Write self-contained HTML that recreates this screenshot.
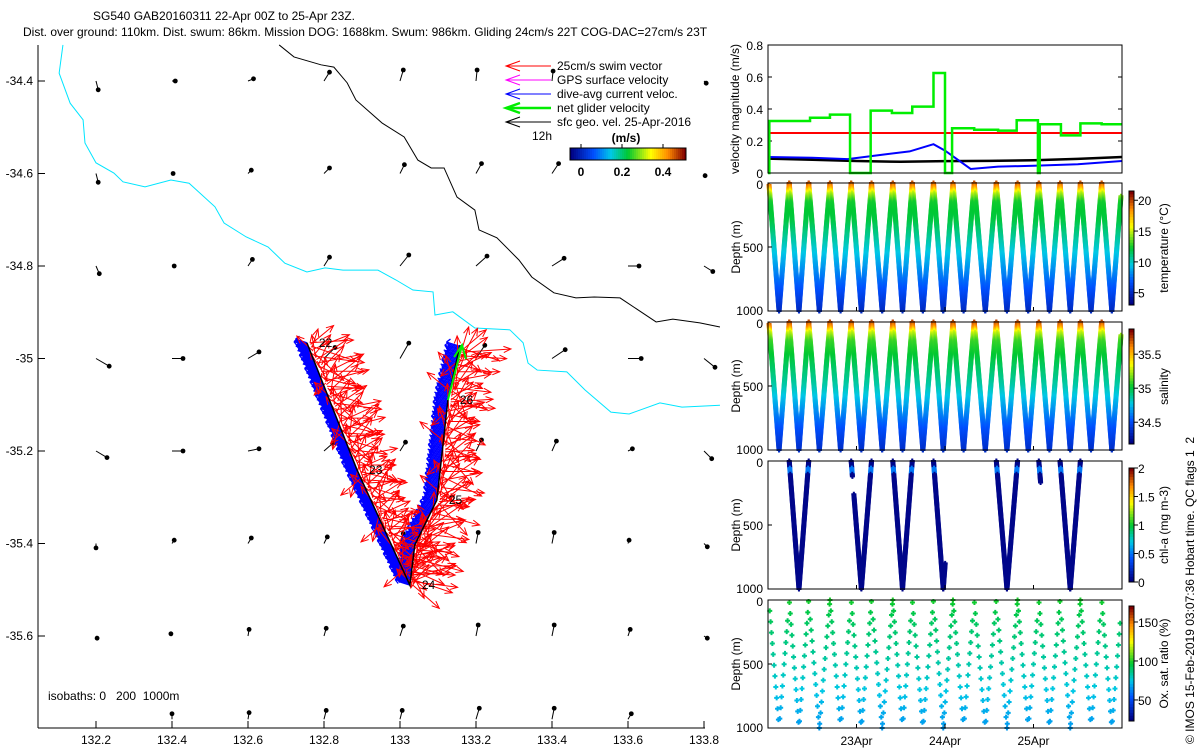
<!DOCTYPE html>
<html><head><meta charset="utf-8">
<style>
html,body{margin:0;padding:0;background:#fff;}
svg{display:block;font-family:"Liberation Sans",sans-serif;}
text{font-size:12px;fill:#000;white-space:pre;}
</style></head>
<body>
<svg id="fig" width="1200" height="750" viewBox="0 0 1200 750" xmlns="http://www.w3.org/2000/svg">
<text x="93" y="20">SG540 GAB20160311 22-Apr 00Z to 25-Apr 23Z.</text>
<text x="23" y="36">Dist. over ground: 110km. Dist. swum: 86km. Mission DOG: 1688km. Swum: 986km. Gliding 24cm/s 22T COG-DAC=27cm/s 23T</text>
<g id="map"></g>
<g id="vel"></g>
<g id="temp"></g>
<g id="sal"></g>
<g id="chl"></g>
<g id="ox"></g>
<text transform="translate(1194,744) rotate(-90)">© IMOS 15-Feb-2019 03:07:36 Hobart time. QC flags 1  2</text>
</svg>
<script>
// ---------- data ----------
const lonTicks=[132.2,132.4,132.6,132.8,133,133.2,133.4,133.6,133.8];
const latTicks=[-34.4,-34.6,-34.8,-35,-35.2,-35.4,-35.6];
const gridLat=[-34.4,-34.6,-34.8,-35,-35.2,-35.4,-35.6,-35.78];
const geoU=[[.02,.03,.05,.05,.03,.01,.01,0,.02],[.02,.01,.03,.05,.04,.05,.06,0,.01],[.03,.02,.04,.05,.08,.10,.11,.10,.08],[.12,.10,.10,.10,.08,.08,.12,.12,.10],[.10,.10,.10,.08,.05,.05,.04,.04,.07],[0,.02,.03,.03,.03,.02,.02,.01,.03],[.01,-.01,.01,.02,.03,.02,.02,.02,.03],[0,0,.01,.02,.02,.03,.02,.03,0]];
const geoV=[[-.08,0,.02,.08,.10,.10,.09,0,-.02],[-.08,0,.03,.05,.08,.09,.09,0,-.02],[-.07,0,.06,.08,.10,.09,.07,0,-.05],[-.07,0,.06,.10,.14,.12,.08,0,-.08],[-.06,0,.02,.07,.08,.10,.09,.02,-.07],[-.04,.03,.05,.06,.09,.10,.10,.03,-.03],[-.02,.02,.06,.07,.09,.10,.10,.06,-.02],[0,.05,.06,.08,.08,.10,.10,.05,0]];
const isoCyanLon=[132.113,132.103,132.132,132.166,132.171,132.2,132.247,132.271,132.329,132.397,132.445,132.513,132.537,132.595,132.653,132.697,132.755,132.803,132.85,132.942,132.989,133.034,133.087,133.092,133.139,133.197,133.289,133.324,133.337,133.361,133.439,133.487,133.555,133.603,133.684,133.742,133.842];
const isoCyanLat=[-34.322,-34.383,-34.448,-34.484,-34.534,-34.577,-34.599,-34.618,-34.629,-34.614,-34.621,-34.672,-34.707,-34.737,-34.759,-34.794,-34.813,-34.804,-34.809,-34.809,-34.830,-34.852,-34.856,-34.906,-34.899,-34.934,-34.938,-34.966,-35.010,-35.025,-35.029,-35.068,-35.116,-35.120,-35.096,-35.105,-35.101];
const isoBlackLon=[132.682,132.721,132.792,132.826,132.861,132.884,132.953,133.011,133.047,133.082,133.116,133.150,133.197,133.208,133.255,133.313,133.347,133.405,133.463,133.511,133.579,133.674,133.718,133.789,133.842];
const isoBlackLat=[-34.322,-34.348,-34.365,-34.370,-34.404,-34.441,-34.491,-34.521,-34.571,-34.588,-34.588,-34.651,-34.679,-34.722,-34.739,-34.787,-34.824,-34.858,-34.869,-34.867,-34.869,-34.921,-34.915,-34.923,-34.932];
const trackLon=[132.755,132.887,133.026,133.039,133.097,133.126,133.158];
const trackLat=[-34.966,-35.241,-35.490,-35.403,-35.306,-35.090,-34.971];
const dayLabels=["22","23","24","","25","26",""];
const swimAngles=[20,70,-10,110,45,160,-40,85,5,130,60,-70,30,100,-20,150,75,15,-100,50,120,-5,90,35,-130,65,10,-45];
const swimLens=[.30,.22,.34,.18,.28,.25,.32,.20,.35,.24,.27,.19,.31,.23,.29,.21,.26];
// velocity panel
const greenT=[0,0.015,0.475,0.70,0.927,1.16,1.40,1.63,1.87,2.0,2.08,2.33,2.6,2.81,3.05,3.07,3.31,3.53,3.77,4.0];
const greenV=[0,0.325,0.345,0.365,0,0.39,0.375,0.415,0.625,0,0.28,0.27,0.265,0.33,0,0.305,0.235,0.31,0.305,0.305];
const redT=[0,4];const redV=[0.25,0.25];
const blueT=[0,0.5,0.9,1.3,1.6,1.87,2.0,2.29,2.6,3.0,3.5,4.0];
const blueV=[0.1,0.095,0.087,0.115,0.135,0.18,0.14,0.025,0.04,0.045,0.055,0.075];
const blackT=[0,0.5,1.0,1.5,2.0,2.5,3.0,3.5,4.0];
const blackV=[0.09,0.083,0.075,0.07,0.074,0.076,0.08,0.088,0.1];
// dives (surface times, days since 22 Apr 00Z)
const surfT=[0.01,0.24,0.46,0.70,0.94,1.17,1.41,1.63,1.87,2.09,2.33,2.58,2.82,3.06,3.30,3.53,3.77,4.00];
const profDepth=[0,40,80,150,300,500,700,850,1000];
const tempProf=[20,18,15,12.5,12,10,8,6.5,5];
const salProf=[35.75,35.6,35.3,35.1,35.0,34.86,34.65,34.5,34.38];
const oxProf=[100,97,95,92,88,82,75,70,66];
const chlSeg=[[1,0,0,1000],[1,1,0,1000],[4,0,0,120],[4,0,260,1000],[4,1,0,1000],[6,0,0,1000],[6,1,0,1000],[8,0,0,1000],[8,1,800,1000],[11,0,0,1000],[11,1,0,1000],[13,0,0,170],[14,0,0,1000],[14,1,0,1000]];

// ---------- helpers ----------
const NS="http://www.w3.org/2000/svg";
function mk(parent,tag,attrs){const e=document.createElementNS(NS,tag);for(const k in attrs)e.setAttribute(k,attrs[k]);parent.appendChild(e);return e;}
const cmapStops=[0,0.2,0.35,0.5,0.7,0.85,1];
const cmapCols=[[0,0,128],[0,80,255],[0,200,230],[0,200,50],[255,255,0],[255,140,0],[128,0,0]];
function jet(f){f=Math.max(0,Math.min(1,f));let i=1;while(i<cmapStops.length-1&&f>cmapStops[i])i++;
 const a=cmapStops[i-1],b=cmapStops[i],w=(f-a)/(b-a);const c=cmapCols[i-1].map((v,k)=>Math.round(v+w*(cmapCols[i][k]-v)));return `rgb(${c[0]},${c[1]},${c[2]})`;}
function interp(xs,ys,x){if(x<=xs[0])return ys[0];for(let i=1;i<xs.length;i++){if(x<=xs[i]){const f=(x-xs[i-1])/(xs[i]-xs[i-1]);return ys[i-1]+f*(ys[i]-ys[i-1]);}}return ys[ys.length-1];}

// ---------- map ----------
const map=document.getElementById('map');
const mx=lon=>96+(lon-132.2)*380;
const my=lat=>81-(lat+34.4)*462.5;
let l;
l=mk(map,'line',{x1:38,y1:45,x2:38,y2:728,stroke:'#000'});

l=mk(map,'line',{x1:38,y1:728,x2:705,y2:728,stroke:'#000'});

lonTicks.forEach(v=>{const x=mx(v);mk(map,'line',{x1:x,y1:728,x2:x,y2:721,stroke:'#000'});
 const t=mk(map,'text',{x:x,y:744,'text-anchor':'middle'});t.textContent=String(v);
 });
latTicks.forEach(v=>{const y=my(v);mk(map,'line',{x1:38,y1:y,x2:45,y2:y,stroke:'#000'});
 const t=mk(map,'text',{x:33,y:y+4,'text-anchor':'end'});t.textContent=String(v);
 });
function polyline(g,lons,lats,color,w,name){const p=mk(g,'polyline',{points:lons.map((v,i)=>mx(v)+','+my(lats[i])).join(' '),fill:'none',stroke:color,'stroke-width':w});
 return p;}
polyline(map,isoCyanLon,isoCyanLat,'#00e5ff',1,'isobath-200m');
polyline(map,isoBlackLon,isoBlackLat,'#000',1,'isobath-1000m');
gridLat.forEach((la,r)=>{lonTicks.forEach((lo,c)=>{const u=geoU[r][c],v=geoV[r][c];if(u===0&&v===0)return;
 const x=mx(lo),y=my(la),x2=x+u*110,y2=y-v*110;
 const a=mk(map,'line',{x1:x,y1:y,x2:x2,y2:y2,stroke:'#000','stroke-width':1});
 
 mk(map,'circle',{cx:x2,cy:y2,r:2.4,fill:'#000'});});});
const tp=trackLon.map((v,i)=>[mx(v),my(trackLat[i])]);
function sampleTrack(step){const out=[];for(let i=0;i<tp.length-1;i++){const n=Math.max(3,Math.round(Math.hypot(tp[i+1][0]-tp[i][0],tp[i+1][1]-tp[i][1])/step));
 for(let k=0;k<n;k++){const f=k/n;out.push([tp[i][0]+f*(tp[i+1][0]-tp[i][0]),tp[i][1]+f*(tp[i+1][1]-tp[i][1])]);}}return out;}
const blueG=mk(map,'g',{stroke:'#0000ff','stroke-width':1.3});

sampleTrack(1.2).forEach((s,i)=>{const L=12+(i%4);const x2=s[0]-L*0.95,y2=s[1]-L*0.3;
 mk(blueG,'line',{x1:s[0],y1:s[1],x2:x2,y2:y2});if(i%3===0){mk(blueG,'line',{x1:x2,y1:y2,x2:x2+4,y2:y2-3});mk(blueG,'line',{x1:x2,y1:y2,x2:x2+3,y2:y2+4});}});
const redG=mk(map,'g',{stroke:'#ff0000','stroke-width':1,fill:'none'});

sampleTrack(1.8).forEach((s,i)=>{const a=(swimAngles[i%swimAngles.length]-15)*Math.PI/180,L=swimLens[i%swimLens.length]*140;
 const x0=s[0]+3,y0=s[1];const x2=x0+L*Math.cos(a)*0.85+8,y2=y0-L*Math.sin(a)*0.75;
 mk(redG,'line',{x1:x0,y1:y0,x2:x2,y2:y2});
 const b=Math.atan2(y2-y0,x2-x0);
 mk(redG,'polyline',{points:`${x2-8*Math.cos(b-0.4)},${y2-8*Math.sin(b-0.4)} ${x2},${y2} ${x2-8*Math.cos(b+0.4)},${y2-8*Math.sin(b+0.4)}`});});
polyline(map,trackLon,trackLat,'#000',1.5,'glider-track');
const ga=mk(map,'polyline',{points:`${tp[5][0]},${tp[5][1]} ${tp[6][0]+2},${tp[6][1]}`,stroke:'#00ee00','stroke-width':2,fill:'none'});

mk(map,'polyline',{points:`${tp[6][0]-6},${tp[6][1]+12} ${tp[6][0]+2},${tp[6][1]} ${tp[6][0]+6},${tp[6][1]+14}`,stroke:'#00ee00','stroke-width':2,fill:'none'});
dayLabels.forEach((d,i)=>{if(!d)return;const t=mk(map,'text',{x:tp[i][0]+12,y:tp[i][1]+4});t.textContent=d;
 });
const legItems=[['25cm/s swim vector','#ff0000',1],['GPS surface velocity','#ff00ff',1],['dive-avg current veloc.','#0000ff',1],['net glider velocity','#00ee00',2.5],['sfc geo. vel. 25-Apr-2016','#000',1]];
legItems.forEach((it,i)=>{const y=66+i*14;const g=mk(map,'g',{});
 
 mk(g,'line',{x1:506,y1:y,x2:551,y2:y,stroke:it[1],'stroke-width':it[2]});
 mk(g,'polyline',{points:`520,${y-5} 506,${y} 520,${y+5}`,fill:'none',stroke:it[1],'stroke-width':it[2]});
 const t=mk(g,'text',{x:557,y:y+4});t.textContent=it[0];});
let tt=mk(map,'text',{x:532,y:140});tt.textContent='12h';
tt=mk(map,'text',{x:626,y:142,'text-anchor':'middle','font-weight':'bold'});tt.textContent='(m/s)';
for(let i=0;i<58;i++)mk(map,'rect',{x:570+i*2,y:148,width:2.2,height:12,fill:jet(i/57)});
mk(map,'rect',{x:570,y:148,width:116,height:12,fill:'none',stroke:'#000'});
[[0,581],[0.2,622],[0.4,663]].forEach(p=>{mk(map,'line',{x1:p[1],y1:148,x2:p[1],y2:144,stroke:'#000'});const t=mk(map,'text',{x:p[1],y:176,'text-anchor':'middle','font-weight':'bold'});t.textContent=String(p[0]);
 });
tt=mk(map,'text',{x:48,y:700});tt.textContent='isobaths: 0   200  1000m';

// ---------- right panels ----------
const PX0=768,PX1=1122,px=t=>PX0+t*88.5;
function box(g,top,bot,name){const r=mk(g,'rect',{x:PX0,y:top,width:PX1-PX0,height:bot-top,fill:'none',stroke:'#000'});}
const vel=document.getElementById('vel');
const vy=v=>173-v/0.8*128;
[0,0.2,0.4,0.6,0.8].forEach(v=>{const y=vy(v);mk(vel,'line',{x1:PX0,y1:y,x2:PX0+4,y2:y,stroke:'#000'});mk(vel,'line',{x1:PX1,y1:y,x2:PX1-4,y2:y,stroke:'#000'});
 const t=mk(vel,'text',{x:763,y:y+5,'text-anchor':'end'});t.textContent=String(v);});
tt=mk(vel,'text',{transform:'translate(739,109) rotate(-90)','text-anchor':'middle'});tt.textContent='velocity magnitude (m/s)';
function stepPath(T,V){let d=`M${px(T[0])},${vy(V[0])}`;for(let i=1;i<T.length;i++){d+=` L${px(T[i])},${vy(V[i-1])} L${px(T[i])},${vy(V[i])}`;}return d;}
function linePath(T,V){return T.map((t,i)=>(i?'L':'M')+px(t)+','+vy(V[i])).join(' ');}
let p=mk(vel,'path',{d:linePath(redT,redV),stroke:'#ff0000','stroke-width':2,fill:'none'});
p=mk(vel,'path',{d:linePath(blackT,blackV),stroke:'#000','stroke-width':2.5,fill:'none'});
p=mk(vel,'path',{d:linePath(blueT,blueV),stroke:'#0000ff','stroke-width':2,fill:'none'});
p=mk(vel,'path',{d:stepPath(greenT,greenV),stroke:'#00ee00','stroke-width':2.5,fill:'none'});
box(vel,45,173,'velocity-axes-box');

function depthPanel(id,top,cbTop,cbBot,vmin,vmax,cbTicks,label,valFn,segments,step,sz,offFn){
 const g=document.getElementById(id),bot=top+128,dy=d=>top+d/1000*128;
 const pts=mk(g,'g',{});
 segments.forEach((s,si)=>{const i=s[0],asc=s[1],ts=surfT[i],te=surfT[i+1]!==undefined?surfT[i+1]:ts+0.23,tb=(ts+te)/2;
  const d0=offFn?offFn(si,s[2]):s[2];
  for(let d=d0;d<=s[3];d+=step){const t=asc?te-(te-tb)*d/1000:ts+(tb-ts)*d/1000;const x=px(t);if(x<PX0+1||x>PX1-1)continue;
   const col=jet((valFn(d)-vmin)/(vmax-vmin));const y=dy(d);
   mk(pts,'path',{d:`M${x-sz},${y}h${2*sz}M${x},${y-sz}v${2*sz}`,stroke:col,'stroke-width':2});}});
 box(g,top,bot,id+'-axes-box');
 [0,500,1000].forEach(v=>{const y=dy(v);mk(g,'line',{x1:PX0,y1:y,x2:PX0+4,y2:y,stroke:'#000'});
  const t=mk(g,'text',{x:763,y:y+(v===0?6:v===1000?4:5),'text-anchor':'end'});t.textContent=String(v);});
 [1,2,3].forEach(d=>{mk(g,'line',{x1:px(d),y1:bot,x2:px(d),y2:bot-4,stroke:'#000'});});
 let t=mk(g,'text',{transform:`translate(740,${top+64}) rotate(-90)`,'text-anchor':'middle'});t.textContent='Depth (m)';
 for(let k=0;k<40;k++){const h=(cbBot-cbTop)/40;mk(g,'rect',{x:1129,y:cbBot-(k+1)*h,width:5,height:h+0.5,fill:jet(k/39)});}
 const cb=mk(g,'rect',{x:1129,y:cbTop,width:5,height:cbBot-cbTop,fill:'none',stroke:'#000'});
 cbTicks.forEach(v=>{const y=cbBot-(v-vmin)/(vmax-vmin)*(cbBot-cbTop);mk(g,'line',{x1:1134,y1:y,x2:1138,y2:y,stroke:'#000'});
  const tx=mk(g,'text',{x:1138,y:y+5});tx.textContent=String(v);});
 t=mk(g,'text',{transform:`translate(1168,${(cbTop+cbBot)/2}) rotate(-90)`,'text-anchor':'middle'});t.textContent=label;
 return {g,bot};
}
const allSeg=[];for(let i=0;i<surfT.length;i++){allSeg.push([i,0,0,1000]);if(i<surfT.length-1)allSeg.push([i,1,0,1000]);}
depthPanel('temp',183,191,305,3,21.5,[5,10,15,20],'temperature (°C)',d=>interp(profDepth,tempProf,d),allSeg,8,2.5);
depthPanel('sal',322,329,444,34.18,35.87,[34.5,35,35.5],'salinity',d=>interp(profDepth,salProf,d),allSeg,8,2.5);
depthPanel('chl',461,468,582,0,2,[0,0.5,1,1.5,2],'chl-a (mg m-3)',d=>(d>55&&d<100)?0.5:0.03,chlSeg,8,2.5);
const ox=depthPanel('ox',600,606,721,23,170.5,[50,100,150],'Ox. sat. ratio (%)',d=>interp(profDepth,oxProf,d),allSeg,85,2.5,(si,d)=>(si%3===0?0:si%3===1?150:20)+(si%2)*12);
[['23Apr',1],['24Apr',2],['25Apr',3]].forEach(d=>{const t=mk(ox.g,'text',{x:px(d[1]),y:745,'text-anchor':'middle'});t.textContent=d[0];
 });
</script>
</body></html>
